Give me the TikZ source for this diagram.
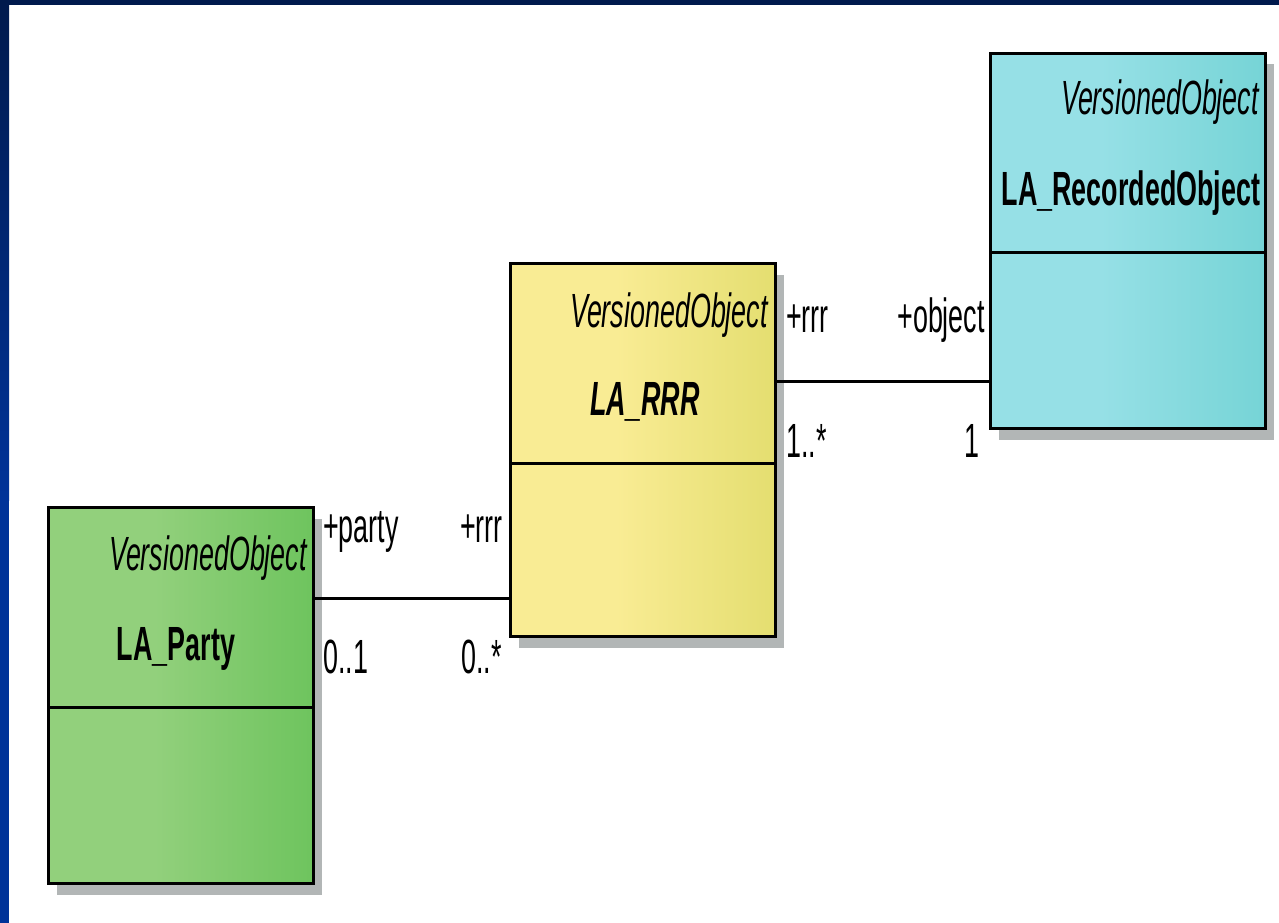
\documentclass[tikz,border=0pt]{standalone}
\usepackage{fontspec}
\usetikzlibrary{shadows,calc}
\newfontfamily\umlfont[FakeStretch=0.56]{Liberation Sans}
\definecolor{navy}{RGB}{0,26,77}
\definecolor{royal}{RGB}{0,51,153}
\definecolor{shadowgray}{RGB}{178,182,182}
\definecolor{greenL}{RGB}{146,208,124}
\definecolor{greenR}{RGB}{110,196,94}
\definecolor{yellowL}{RGB}{249,236,148}
\definecolor{yellowR}{RGB}{228,222,112}
\definecolor{cyanL}{RGB}{150,224,230}
\definecolor{cyanR}{RGB}{118,212,214}
\pgfdeclarehorizontalshading{greenshade}{100bp}{color(0bp)=(greenL); color(45bp)=(greenL); color(75bp)=(greenR); color(100bp)=(greenR)}
\pgfdeclarehorizontalshading{yellowshade}{100bp}{color(0bp)=(yellowL); color(45bp)=(yellowL); color(75bp)=(yellowR); color(100bp)=(yellowR)}
\pgfdeclarehorizontalshading{cyanshade}{100bp}{color(0bp)=(cyanL); color(45bp)=(cyanL); color(75bp)=(cyanR); color(100bp)=(cyanR)}
\tikzset{
  classbox/.style={draw=black, line width=3pt, rectangle, inner sep=0pt, anchor=north west,
    drop shadow={shadow xshift=8pt, shadow yshift=-11pt, fill=shadowgray, opacity=1}},
  divider/.style={draw=black, line width=3pt},
  assoc/.style={draw=black, line width=3pt},
  txt/.style={font=\umlfont\fontsize{48}{52}\selectfont, inner sep=0pt, text=black},
}
\begin{document}
\begin{tikzpicture}[x=1pt,y=-1pt]
\useasboundingbox (0,0) rectangle (1279,923);
\fill[white] (0,0) rectangle (1279,923);
% frame
\fill[navy] (0,0) rectangle (1279,5);
\shade[top color=navy, bottom color=royal] (0,0) rectangle (9,500);
\fill[royal] (0,500) rectangle (9,923);

% boxes
\node[classbox, shading=greenshade, minimum width=265pt, minimum height=376pt] (party) at (47,506) {};
\node[classbox, shading=yellowshade, minimum width=265pt, minimum height=373pt] (rrr) at (509,262) {};
\node[classbox, shading=cyanshade, minimum width=275pt, minimum height=375pt] (ro) at (989,52) {};

% dividers
\draw[divider] (party.west |- 0,707) -- (party.east |- 0,707);
\draw[divider] (rrr.west |- 0,463) -- (rrr.east |- 0,463);
\draw[divider] (ro.west |- 0,252) -- (ro.east |- 0,252);

% class texts
\node[txt, anchor=base east] (st1) at (307,570) {\itshape VersionedObject};
\node[txt, anchor=base] (n1) at (176,660) {\bfseries LA\_Party};
\node[txt, anchor=base east] (st2) at (768,327) {\itshape VersionedObject};
\node[txt, anchor=base] (n2) at (645,415) {\bfseries\itshape LA\_RRR};
\node[txt, anchor=base east] (st3) at (1259,115) {\itshape VersionedObject};
\node[txt, anchor=base] (n3) at (1131,205) {\bfseries LA\_RecordedObject};

% associations
\draw[assoc] (party.east |- 0,598) -- (rrr.west |- 0,598);
\draw[assoc] (rrr.east |- 0,381) -- (ro.west |- 0,381);

% association end labels
\node[txt, anchor=base west] (l1) at (323,542) {+party};
\node[txt, anchor=base east] (l2) at (503,542) {+rrr};
\node[txt, anchor=base west] (l3) at (323,673) {0..1};
\node[txt, anchor=base west] (l4) at (461,673) {0..*};
\node[txt, anchor=base west] (l5) at (786,332) {+rrr};
\node[txt, anchor=base east] (l6) at (985,332) {+object};
\node[txt, anchor=base west] (l7) at (786,457) {1..*};
\node[txt, anchor=base east] (l8) at (980,457) {1};
\end{tikzpicture}
\end{document}
